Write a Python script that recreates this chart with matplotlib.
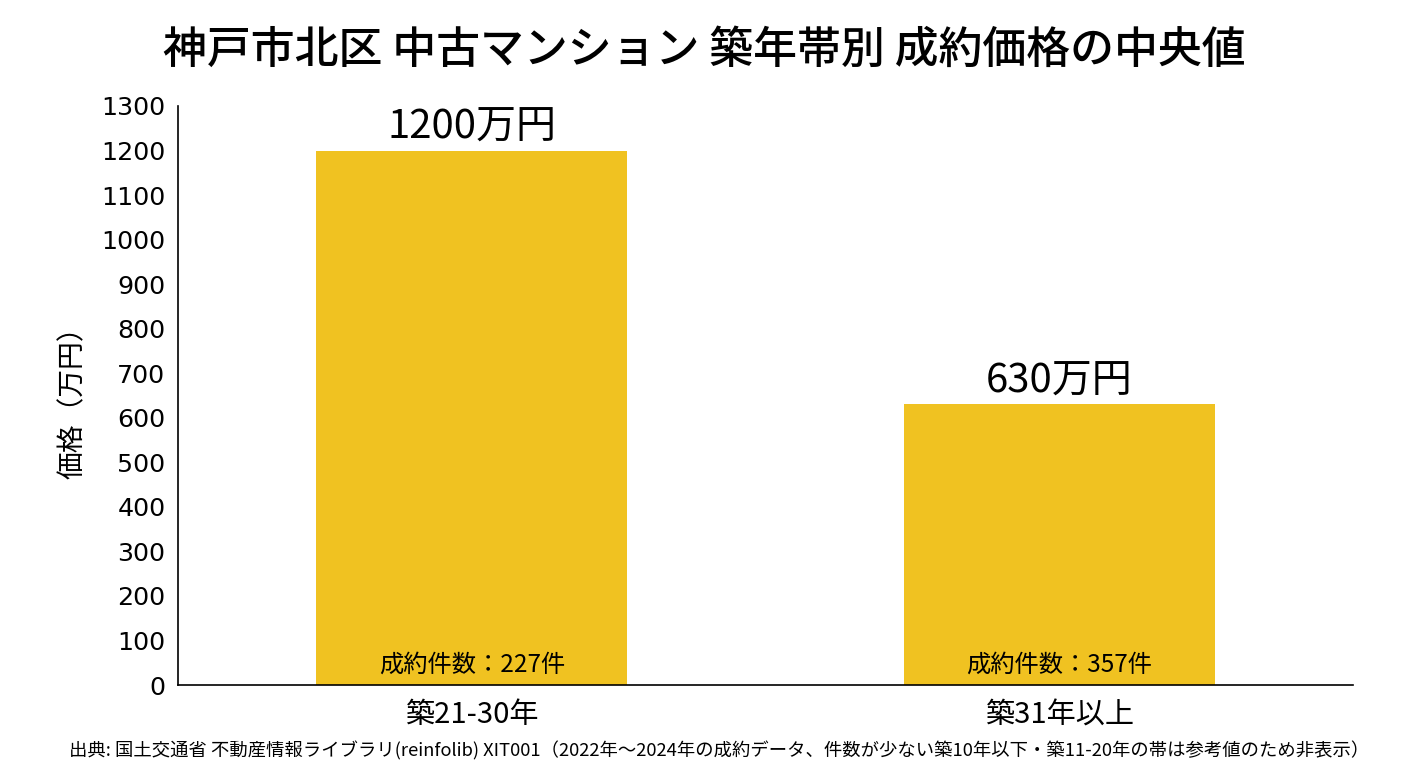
import matplotlib
matplotlib.use("Agg")
import matplotlib.pyplot as plt

plt.rcParams['font.family'] = ['Noto Sans CJK JP', 'DejaVu Sans']

categories = ['築21-30年', '築31年以上']
values = [1200, 630]
counts = [227, 357]
yticks = list(range(0, 1301, 100))

title = '神戸市北区 中古マンション 築年帯別 成約価格の中央値'
ylabel = '価格（万円）'
source = '出典: 国土交通省 不動産情報ライブラリ(reinfolib) XIT001（2022年〜2024年の成約データ、件数が少ない築10年以下・築11-20年の帯は参考値のため非表示）'

color = '#F0C221'

fig = plt.figure(figsize=(14.08, 7.68), dpi=100)
ax = fig.add_axes([0.1264, 0.108, 0.8346, 0.754])

x = list(range(len(categories)))
bars = ax.bar(x, values, width=0.53, color=color)
ax.set_xlim(-0.5, 1.5)
ax.set_ylim(0, 1300)
ax.set_yticks(yticks)
ax.set_yticklabels([str(t) for t in yticks], family='DejaVu Sans', fontsize=18.3)
ax.set_xticks(x)
ax.set_xticklabels(categories, fontsize=21)
ax.tick_params(axis='y', length=0, pad=9)
ax.tick_params(axis='x', length=0, pad=11)
for s in ['top', 'right']:
    ax.spines[s].set_visible(False)
for s in ['left', 'bottom']:
    ax.spines[s].set_linewidth(1.2)

ax.set_ylabel(ylabel, fontsize=20, labelpad=10)

for xi, v, c in zip(x, values, counts):
    ax.annotate(f'{v}万円', xy=(xi, v), xytext=(0, 2), textcoords='offset points',
                ha='center', va='bottom', fontsize=28.8)
    ax.annotate(f'成約件数：{c}件', xy=(xi, 0), xytext=(0, 5), textcoords='offset points',
                ha='center', va='bottom', fontsize=17.5)

fig.text(0.5, 0.934, title, ha='center', va='center', fontsize=31.6, fontweight='medium')
fig.text(0.511, 0.022, source, ha='center', va='center', fontsize=13.2)

fig.savefig('out.png', dpi=100, facecolor='white')
